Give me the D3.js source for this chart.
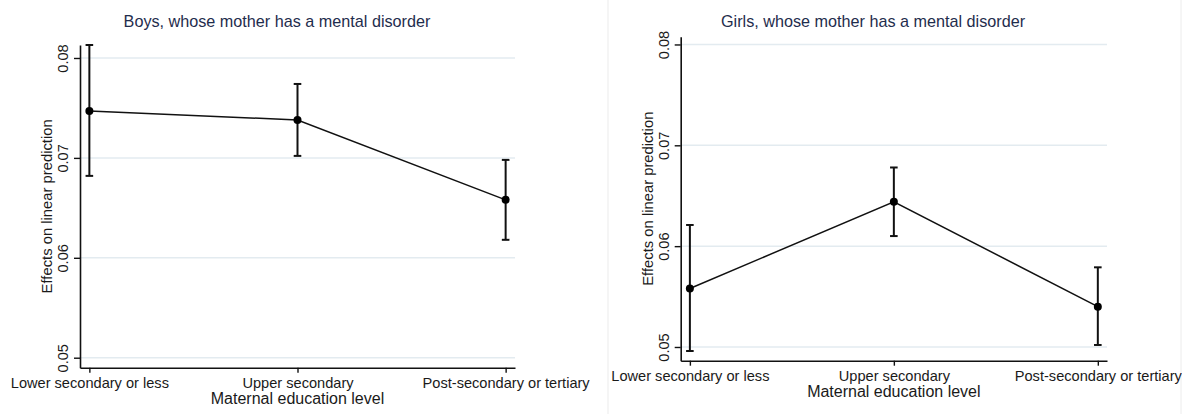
<!DOCTYPE html>
<html>
<head>
<meta charset="utf-8">
<script src="https://cdn.jsdelivr.net/npm/d3@7"></script>
<style>
    body { margin: 0; background: #fff; }
    svg { display: block; font-family: "Liberation Sans", Arial, sans-serif; }
</style>
</head>
<body>
<svg id="chart"></svg>
<script>
// values
const categories = ["Lower secondary or less", "Upper secondary", "Post-secondary or tertiary"];
const boysMean  = [0.0747, 0.0738, 0.0658];
const boysLower = [0.0682, 0.0702, 0.0618];
const boysUpper = [0.0813, 0.0774, 0.0698];
const girlsMean  = [0.0558, 0.0644, 0.0540];
const girlsLower = [0.0496, 0.0610, 0.0502];
const girlsUpper = [0.0621, 0.0678, 0.0579];
const yTicks = [0.05, 0.06, 0.07, 0.08];

class MarginsPlot {
    constructor(svg, data, box) {
        this.svg = svg;
        this.data = data;
        this.box = box;
    }

    initialize() {
        this.g = this.svg.append("g");
        this.grid = this.g.append("g");
        this.container = this.g.append("g");
        this.xAxis = this.g.append("g").attr("transform", `translate(0, ${this.box.bottom})`);
        this.yAxis = this.g.append("g").attr("transform", `translate(${this.box.left}, 0)`);

        this.xScale = d3.scalePoint()
            .domain(categories)
            .range([this.box.left, this.box.right])
            .padding(0.045);
        this.yScale = d3.scaleLinear()
            .domain(this.box.yDomain)
            .range([this.box.bottom, this.box.top]);
    }

    update(title) {
        let x = this.xScale, y = this.yScale, b = this.box;

        this.grid.selectAll("line")
            .data(yTicks)
            .join("line")
            .attr("x1", b.left)
            .attr("x2", b.right)
            .attr("y1", d => y(d))
            .attr("y2", d => y(d))
            .attr("stroke", "#e3ebf0")
            .attr("stroke-width", 1.5);

        this.yAxis.call(d3.axisLeft(y).tickValues(yTicks).tickSize(6).tickSizeOuter(0).tickFormat(d3.format(".2f")));
        this.xAxis.call(d3.axisBottom(x).tickSize(5).tickSizeOuter(0));

        [this.xAxis, this.yAxis].forEach(a => {
            a.select(".domain").attr("stroke", "#111").attr("stroke-width", 1.6);
            a.selectAll(".tick line").attr("stroke", "#111").attr("stroke-width", 1.4);
            a.selectAll("text").attr("fill", "#1a1a1a").style("font-size", "14.6px");
        });

        this.yAxis.selectAll(".tick text")
            .attr("x", null).attr("dy", null)
            .attr("text-anchor", "middle")
            .attr("transform", "translate(-12, 0) rotate(-90)");

        this.xAxis.selectAll(".tick text")
            .attr("y", 20).attr("dy", null);

        let pts = this.data.mean.map((m, i) => ({
            cat: categories[i], mean: m, lo: this.data.lower[i], hi: this.data.upper[i]
        }));

        this.container.append("path")
            .datum(pts)
            .attr("fill", "none")
            .attr("stroke", "#111")
            .attr("stroke-width", 1.5)
            .attr("d", d3.line().x(d => x(d.cat)).y(d => y(d.mean)));

        let bars = this.container.selectAll("g.bar")
            .data(pts)
            .join("g")
            .attr("class", "bar")
            .attr("stroke", "#111")
            .attr("stroke-width", 2);

        bars.append("line")
            .attr("x1", d => x(d.cat)).attr("x2", d => x(d.cat))
            .attr("y1", d => y(d.lo)).attr("y2", d => y(d.hi));
        bars.append("line")
            .attr("x1", d => x(d.cat) - 3.8).attr("x2", d => x(d.cat) + 3.8)
            .attr("y1", d => y(d.hi)).attr("y2", d => y(d.hi));
        bars.append("line")
            .attr("x1", d => x(d.cat) - 3.8).attr("x2", d => x(d.cat) + 3.8)
            .attr("y1", d => y(d.lo)).attr("y2", d => y(d.lo));

        this.container.selectAll("circle")
            .data(pts)
            .join("circle")
            .attr("cx", d => x(d.cat))
            .attr("cy", d => y(d.mean))
            .attr("r", 4)
            .attr("fill", "#000");

        this.g.append("text")
            .attr("x", b.titleX)
            .attr("y", 27)
            .attr("text-anchor", "middle")
            .attr("fill", "#1f2d4d")
            .style("font-size", "16.2px")
            .text(title);

        this.g.append("text")
            .attr("transform", `translate(${b.left - 28}, ${(b.top + b.bottom) / 2}) rotate(-90)`)
            .attr("text-anchor", "middle")
            .attr("fill", "#1a1a1a")
            .style("font-size", "14.8px")
            .text("Effects on linear prediction");

        this.g.append("text")
            .attr("x", (b.left + b.right) / 2)
            .attr("y", b.bottom + 36)
            .attr("text-anchor", "middle")
            .attr("fill", "#1a1a1a")
            .style("font-size", "16px")
            .text("Maternal education level");
    }
}

const svg = d3.select("#chart").attr("width", 1182).attr("height", 414);
svg.append("rect").attr("width", 1182).attr("height", 414).attr("fill", "#fff");

// faint frame of the second picture
svg.append("rect")
    .attr("x", 608).attr("y", -1).attr("width", 573).attr("height", 420)
    .attr("fill", "none").attr("stroke", "#ececec");

let boys = new MarginsPlot(svg, { mean: boysMean, lower: boysLower, upper: boysUpper },
    { left: 80, right: 515, top: 45, bottom: 367.7, yDomain: [0.049, 0.0813], titleX: 277 });
boys.initialize();
boys.update("Boys, whose mother has a mental disorder");

let girls = new MarginsPlot(svg, { mean: girlsMean, lower: girlsLower, upper: girlsUpper },
    { left: 680.7, right: 1107, top: 36.7, bottom: 360.7, yDomain: [0.04864, 0.08077], titleX: 873 });
girls.initialize();
girls.update("Girls, whose mother has a mental disorder");
</script>
</body>
</html>
